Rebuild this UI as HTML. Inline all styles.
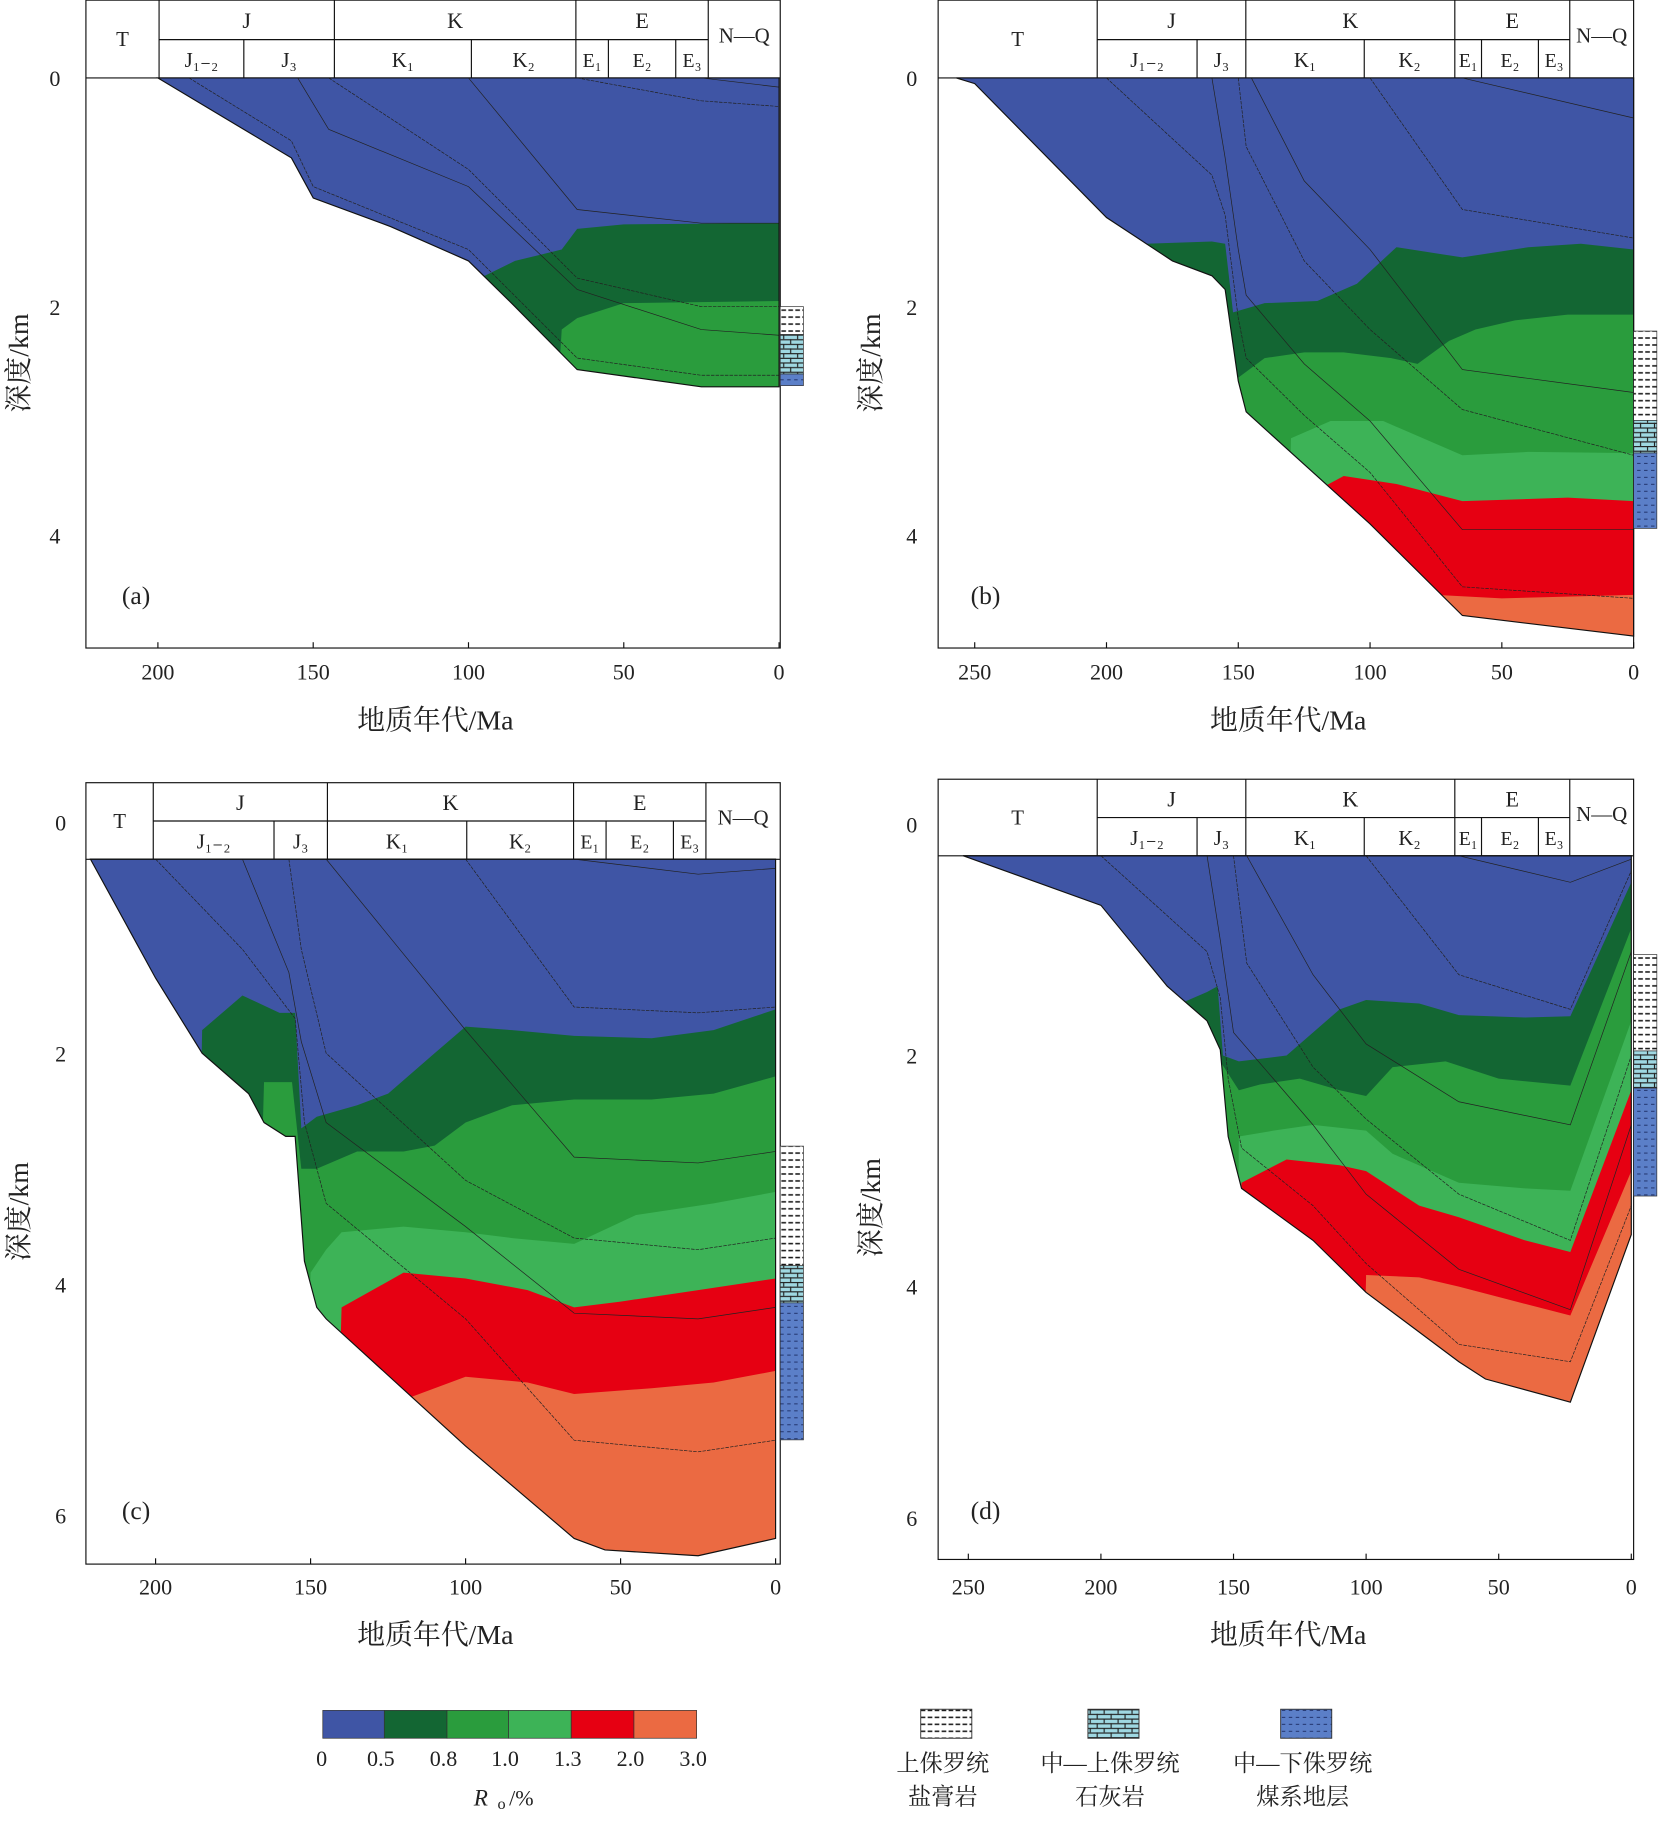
<!DOCTYPE html>
<html><head><meta charset="utf-8"><style>
html,body{margin:0;padding:0;background:#fff;width:1658px;height:1822px;overflow:hidden}
svg{display:block}
text{font-family:"Liberation Serif","Noto Serif CJK SC",serif;fill:#222}
</style></head><body>
<svg id="chart" width="1658" height="1822" viewBox="0 0 1428 1569" xmlns="http://www.w3.org/2000/svg" overflow="hidden">
<defs>
<pattern id="salt" width="12" height="6" patternUnits="userSpaceOnUse"><rect width="12" height="6" fill="#fff"/><line x1="1" y1="3" x2="5" y2="3" stroke="#111" stroke-width="1.3"/><line x1="7" y1="3" x2="11" y2="3" stroke="#111" stroke-width="1.3"/></pattern>
<pattern id="lime" width="12" height="8" patternUnits="userSpaceOnUse"><rect width="12" height="8" fill="#9fd8e2"/><line x1="0" y1="0.5" x2="12" y2="0.5" stroke="#222"/><line x1="0" y1="4.5" x2="12" y2="4.5" stroke="#222"/><line x1="3" y1="0" x2="3" y2="4" stroke="#222"/><line x1="9" y1="4" x2="9" y2="8" stroke="#222"/></pattern>
<pattern id="coal" width="6" height="6" patternUnits="userSpaceOnUse"><rect width="6" height="6" fill="#5b7fc8"/><line x1="0" y1="3" x2="3" y2="3" stroke="#1d2e66" stroke-width="0.8"/></pattern>
</defs>
</svg>
<script>
// ---- Ro colour classes ----
const roTicks = ['0','0.5','0.8','1.0','1.3','2.0','3.0'];
const roColors = ['#3f55a5','#136633','#2a9c3d','#3db357','#e60012','#eb6a42'];

// ---- Panel (a) data: [age Ma, depth km] ----
const aBasement = [[200,0],[157,0.7],[150,1.05],[125,1.3],[100,1.6],[85,2.0],[65,2.55],[25,2.7],[0,2.7]];
const aIso05 = [[125,9],[100,1.8],[85,1.6],[70,1.5],[65,1.32],[50,1.28],[0,1.27]];
const aIso08 = [[85,9],[70,2.2],[65,2.1],[50,1.97],[0,1.95]];
const aHorizons = [
  [[190,0],[157,0.55],[150,0.95],[100,1.5],[65,2.45],[25,2.6],[0,2.6]],
  [[155,0],[145,0.45],[100,0.95],[65,1.85],[25,2.2],[0,2.25]],
  [[145,0],[100,0.8],[65,1.75],[25,2.0],[0,2.0]],
  [[100,0],[65,1.15],[25,1.27],[0,1.27]],
  [[65,0],[25,0.2],[0,0.25]],
  [[25,0],[0,0.08]]
];
// ---- Panel (b) ----
const bBasement = [[257,0],[250,0.05],[200,1.22],[175,1.6],[160,1.73],[155,1.85],[150,2.65],[147,2.92],[125,3.38],[100,3.9],[65,4.7],[0,4.88]];
const bIso05 = [[190,9],[185,1.45],[160,1.43],[155,1.45],[152,2.05],[140,1.97],[120,1.95],[105,1.8],[90,1.48],[65,1.57],[40,1.48],[20,1.45],[0,1.5]];
const bIso08 = [[152,9],[150,2.62],[140,2.45],[125,2.4],[110,2.4],[92,2.45],[82,2.5],[70,2.3],[60,2.2],[45,2.12],[25,2.07],[0,2.07]];
const bIso10 = [[135,9],[130,3.15],[115,3.0],[95,3.0],[75,3.2],[65,3.3],[40,3.27],[0,3.28]];
const bIso13 = [[120,9],[118,3.58],[110,3.48],[90,3.55],[65,3.7],[25,3.67],[0,3.7]];
const bIso20 = [[80,9],[75,4.52],[50,4.55],[0,4.52]];
const bHorizons = [
  [[200,0],[160,0.85],[155,1.2],[150,2.1],[147,2.45],[125,2.95],[100,3.45],[65,4.45],[0,4.55]],
  [[160,0],[155,0.7],[150,1.5],[147,1.9],[125,2.5],[100,3.0],[65,3.95],[0,3.95]],
  [[150,0],[147,0.6],[125,1.6],[100,2.2],[65,2.9],[0,3.3]],
  [[145,0],[125,0.9],[100,1.5],[65,2.55],[0,2.75]],
  [[100,0],[65,1.15],[0,1.4]],
  [[65,0],[0,0.35]]
];
// ---- Panel (c) ----
const cBasement = [[221,0.32],[200,1.35],[185,2.0],[170,2.35],[165,2.6],[158,2.72],[155,2.72],[152,3.8],[148,4.2],[145,4.3],[100,5.4],[65,6.2],[55,6.3],[25,6.35],[0,6.2]];
const cIso05 = [[190,9],[185,1.8],[172,1.5],[160,1.65],[155,1.65],[153,2.65],[148,2.55],[135,2.45],[125,2.35],[110,2.0],[100,1.77],[85,1.8],[65,1.85],[40,1.87],[20,1.8],[0,1.62]];
const cIso08 = [[172,9],[165,2.25],[156,2.25],[153,3.0],[148,3.0],[135,2.85],[120,2.85],[110,2.8],[100,2.6],[85,2.45],[65,2.4],[40,2.4],[20,2.35],[0,2.2]];
const cIso10 = [[155,9],[150,3.9],[145,3.7],[140,3.55],[120,3.5],[100,3.55],[85,3.6],[65,3.65],[45,3.4],[20,3.3],[0,3.2]];
const cIso13 = [[145,9],[140,4.2],[120,3.9],[100,3.95],[80,4.05],[65,4.2],[50,4.15],[25,4.05],[0,3.95]];
const cIso20 = [[125,9],[120,5.0],[100,4.8],[80,4.85],[65,4.95],[40,4.9],[20,4.85],[0,4.75]];
const cHorizons = [
  [[200,0.32],[172,1.1],[155,1.7],[152,2.6],[145,3.3],[100,4.3],[65,5.35],[25,5.45],[0,5.35]],
  [[172,0.32],[157,1.3],[153,1.9],[145,2.6],[100,3.5],[65,4.25],[25,4.3],[0,4.2]],
  [[157,0.32],[153,1.1],[145,2.0],[100,3.1],[65,3.6],[25,3.7],[0,3.6]],
  [[145,0.32],[100,1.8],[65,2.9],[25,2.95],[0,2.85]],
  [[100,0.32],[65,1.6],[25,1.65],[0,1.6]],
  [[65,0.32],[25,0.45],[0,0.4]]
];
// ---- Panel (d) ----
const dBasement = [[252,0.27],[200,0.7],[175,1.4],[160,1.7],[155,1.95],[152,2.7],[147,3.15],[120,3.6],[100,4.05],[65,4.65],[55,4.8],[23,5.0],[0,3.55]];
const dIso05 = [[175,9],[170,1.55],[160,1.45],[156,1.4],[154,2.0],[148,2.05],[130,2.0],[110,1.6],[100,1.52],[80,1.55],[65,1.65],[40,1.67],[23,1.66],[0,0.5]];
const dIso08 = [[160,9],[155,2.05],[148,2.3],[140,2.25],[125,2.2],[110,2.3],[100,2.35],[90,2.1],[70,2.05],[50,2.2],[23,2.26],[0,0.9]];
const dIso10 = [[150,9],[148,2.7],[135,2.65],[120,2.6],[100,2.65],[90,2.85],[65,3.1],[40,3.15],[23,3.17],[0,1.7]];
const dIso13 = [[150,9],[147,3.1],[130,2.9],[110,2.95],[100,3.0],[80,3.3],[65,3.4],[40,3.6],[23,3.7],[0,2.3]];
const dIso20 = [[105,9],[100,3.9],[80,3.92],[65,4.0],[40,4.15],[23,4.25],[0,3.0]];
const dHorizons = [
  [[200,0.27],[160,1.1],[155,1.5],[152,2.2],[147,2.8],[120,3.3],[100,3.8],[65,4.5],[23,4.65],[0,3.3]],
  [[160,0.27],[155,1.0],[150,1.8],[120,2.6],[100,3.2],[65,3.85],[23,4.2],[0,2.6]],
  [[150,0.27],[145,1.2],[120,2.1],[100,2.55],[65,3.2],[23,3.6],[0,2.0]],
  [[145,0.27],[120,1.3],[100,1.9],[65,2.4],[23,2.6],[0,1.1]],
  [[100,0.27],[65,1.3],[23,1.6],[0,0.4]],
  [[65,0.27],[23,0.5],[0,0.3]]
];

const svg = document.getElementById('chart');
const NS = 'http://www.w3.org/2000/svg';
function mk(tag, attrs, parent){
  const e = document.createElementNS(NS, tag);
  for (const k in attrs) e.setAttribute(k, attrs[k]);
  (parent||svg).appendChild(e);
  return e;
}
function txt(x,y,s,size,anchor,parent){
  const t = mk('text',{x:x,y:y,'font-size':size,'text-anchor':anchor||'middle'},parent);
  t.textContent = s;
  return t;
}

const panels = [
  {id:'a', x0:74,x1:672,y0:0,y1:558,hy:[0,34,67], ax:a=>671-2.675*a, dy:d=>67+98.5*d, top:0,
   yt:[0,2,4], xt:[200,150,100,50,0], ylx:52, xly:585, xlab:628, lab:[105,520],
   basement:aBasement, iso:[aIso05,aIso08], hz:aHorizons,
   cols:{T:[74,137],J:[137,288,210],K:[288,496,406],E:[496,610,524,582],NQ:[610,672]},
   litho:[672,692,264,288,322,332]},
  {id:'b', x0:808,x1:1407,y0:0,y1:558,hy:[0,34,67], ax:a=>1407-2.27*a, dy:d=>67+98.5*d, top:0,
   yt:[0,2,4], xt:[250,200,150,100,50,0], ylx:790, xly:585, xlab:628, lab:[836,520],
   basement:bBasement, iso:[bIso05,bIso08,bIso10,bIso13,bIso20], hz:bHorizons,
   cols:{T:[808,945],J:[945,1073,1031],K:[1073,1253,1175],E:[1253,1352,1276,1325],NQ:[1352,1407]},
   litho:[1407,1427,285,362,390,455]},
  {id:'c', x0:74,x1:672,y0:674,y1:1347,hy:[674,707,740], ax:a=>668-2.67*a, dy:d=>708+99.5*d, top:0.32,
   yt:[0,2,4,6], xt:[200,150,100,50,0], ylx:57, xly:1373, xlab:1416, lab:[105,1308],
   basement:cBasement, iso:[cIso05,cIso08,cIso10,cIso13,cIso20], hz:cHorizons,
   cols:{T:[74,132],J:[132,282,236],K:[282,494,402],E:[494,608,522,580],NQ:[608,672]},
   litho:[672,692,987,1090,1122,1240]},
  {id:'d', x0:808,x1:1407,y0:671,y1:1343,hy:[671,704,737], ax:a=>1405-2.284*a, dy:d=>710+99.5*d, top:0.27,
   yt:[0,2,4,6], xt:[250,200,150,100,50,0], ylx:790, xly:1373, xlab:1416, lab:[836,1308],
   basement:dBasement, iso:[dIso05,dIso08,dIso10,dIso13,dIso20], hz:dHorizons,
   cols:{T:[808,945],J:[945,1073,1031],K:[1073,1253,1175],E:[1253,1352,1276,1325],NQ:[1352,1407]},
   litho:[1407,1427,822,905,937,1030]}
];

panels.forEach(p=>{
  const g = mk('g',{});
  
  
  const pt = (a,d)=>p.ax(a).toFixed(1)+','+p.dy(d).toFixed(1);
  const b = p.basement;
  let basin = [pt(b[0][0],p.top), pt(0,p.top)];
  for (let i=b.length-1;i>=0;i--) basin.push(pt(b[i][0],b[i][1]));
  const cp = mk('clipPath',{id:'clip-'+p.id},g);
  mk('polygon',{points:basin.join(' ')},cp);
  const zones = mk('g',{'clip-path':'url(#clip-'+p.id+')'},g);
  
  
  const blue = mk('polygon',{points:basin.join(' '),fill:roColors[0]},zones);
  
  
  p.iso.forEach((line,k)=>{
    const pts=[pt(300,9),pt(300,line[0][1])];
    line.forEach(q=>pts.push(pt(q[0],q[1])));
    pts.push(pt(-5,line[line.length-1][1]));
    pts.push(pt(-5,9));
    const poly = mk('polygon',{points:pts.join(' '),fill:roColors[k+1]},zones);
    
    
  });
  p.hz.forEach((line,k)=>{
    const pts=line.map(q=>pt(q[0],q[1]));
    const pl = mk('polyline',{points:pts.join(' '),fill:'none',stroke:'#222','stroke-width':0.6,'stroke-dasharray':k%2?'none':'3,1'},zones);
    
    
  });
  const outline = mk('polygon',{points:basin.join(' '),fill:'none',stroke:'#111','stroke-width':1},g);
  
  
  const fr = mk('rect',{x:p.x0,y:p.y0,width:p.x1-p.x0,height:p.y1-p.y0,fill:'none',stroke:'#111','stroke-width':1},g);
  
  
  const c=p.cols, hy=p.hy;
  const hd = mk('g',{stroke:'#111','stroke-width':1},g);
  
  
  mk('line',{x1:p.x0,y1:hy[2],x2:p.x1,y2:hy[2]},hd);
  mk('line',{x1:c.J[0],y1:hy[1],x2:c.NQ[0],y2:hy[1]},hd);
  [c.J[0],c.K[0],c.E[0],c.NQ[0]].forEach(x=>mk('line',{x1:x,y1:hy[0],x2:x,y2:hy[2]},hd));
  [c.J[2],c.K[2],c.E[2],c.E[3]].forEach(x=>mk('line',{x1:x,y1:hy[1],x2:x,y2:hy[2]},hd));
  const r1=(hy[0]+hy[1])/2+7, r2=(hy[1]+hy[2])/2+7, rm=(hy[0]+hy[2])/2+6;
  txt((c.T[0]+c.T[1])/2,rm,'T',18,'middle',g);
  txt((c.NQ[0]+c.NQ[1])/2,rm-3,'N—Q',18,'middle',g);
  txt((c.J[0]+c.J[1])/2,r1,'J',19,'middle',g);
  txt((c.K[0]+c.K[1])/2,r1,'K',19,'middle',g);
  txt((c.E[0]+c.E[1])/2,r1,'E',19,'middle',g);
  txt((c.J[0]+c.J[2])/2,r2,'J₁₋₂',18,'middle',g);
  txt((c.J[2]+c.J[1])/2,r2,'J₃',18,'middle',g);
  txt((c.K[0]+c.K[2])/2,r2,'K₁',18,'middle',g);
  txt((c.K[2]+c.K[1])/2,r2,'K₂',18,'middle',g);
  txt((c.E[0]+c.E[2])/2,r2,'E₁',17,'middle',g);
  txt((c.E[2]+c.E[3])/2,r2,'E₂',17,'middle',g);
  txt((c.E[3]+c.E[1])/2,r2,'E₃',17,'middle',g);
  p.yt.forEach(v=>{
    const t = txt(p.ylx,p.dy(v)+7,String(v),19,'end',g);
    
    
  });
  p.xt.forEach(v=>{
    mk('line',{x1:p.ax(v),y1:p.y1,x2:p.ax(v),y2:p.y1-5,stroke:'#111'},g);
    const t = txt(p.ax(v),p.xly,String(v),19,'middle',g);
    
    
  });
  const xl = txt((p.x0+p.x1)/2+2,p.xlab,'地质年代/Ma',24,'middle',g);
  
  
  const ym=(p.dy(p.top)+p.y1)/2;
  const yl = txt(0,0,'深度/km',24,'middle',g);
  yl.setAttribute('transform','translate('+(p.x0-50)+','+ym+') rotate(-90)');
  
  
  const pl = txt(p.lab[0],p.lab[1],'('+p.id+')',22,'start',g);
  
  
  const L=p.litho;
  const lc = mk('g',{},g);
  
  
  mk('rect',{x:L[0],y:L[2],width:L[1]-L[0],height:L[3]-L[2],fill:'url(#salt)',stroke:'#333','stroke-width':0.6},lc);
  mk('rect',{x:L[0],y:L[3],width:L[1]-L[0],height:L[4]-L[3],fill:'url(#lime)',stroke:'#333','stroke-width':0.6},lc);
  mk('rect',{x:L[0],y:L[4],width:L[1]-L[0],height:L[5]-L[4],fill:'url(#coal)',stroke:'#333','stroke-width':0.6},lc);
});

// ---- Ro colour legend ----
const lg = mk('g',{});


const lgX=[278,331,385,438,492,546,600];
roColors.forEach((col,i)=>{
  const r = mk('rect',{x:lgX[i],y:1473,width:lgX[i+1]-lgX[i],height:24,fill:col,stroke:'#333','stroke-width':0.6},lg);
  
  
});
roTicks.forEach((s,i)=>{ txt(lgX[i]-1+(i==0?0:-2),1521,s,19,'middle',lg); });
const ro = mk('text',{x:408,y:1555,'font-size':20,'font-style':'italic'},lg);
ro.textContent='R';
txt(432,1558,'o',14,'middle',lg);
txt(449,1555,'/%',19,'middle',lg);

// ---- lithology legend ----
const lith = [['salt',815,'上侏罗统','盐膏岩'],['lime',959,'中—上侏罗统','石灰岩'],['coal',1125,'中—下侏罗统','煤系地层']];
lith.forEach(l=>{
  const gg = mk('g',{});
  
  
  mk('rect',{x:l[1]-22,y:1472,width:44,height:25,fill:'url(#'+l[0]+')',stroke:'#333','stroke-width':0.8},gg);
  txt(l[1]-3,1525,l[2],20,'middle',gg);
  txt(l[1]-3,1554,l[3],20,'middle',gg);
});
</script>
</body></html>
